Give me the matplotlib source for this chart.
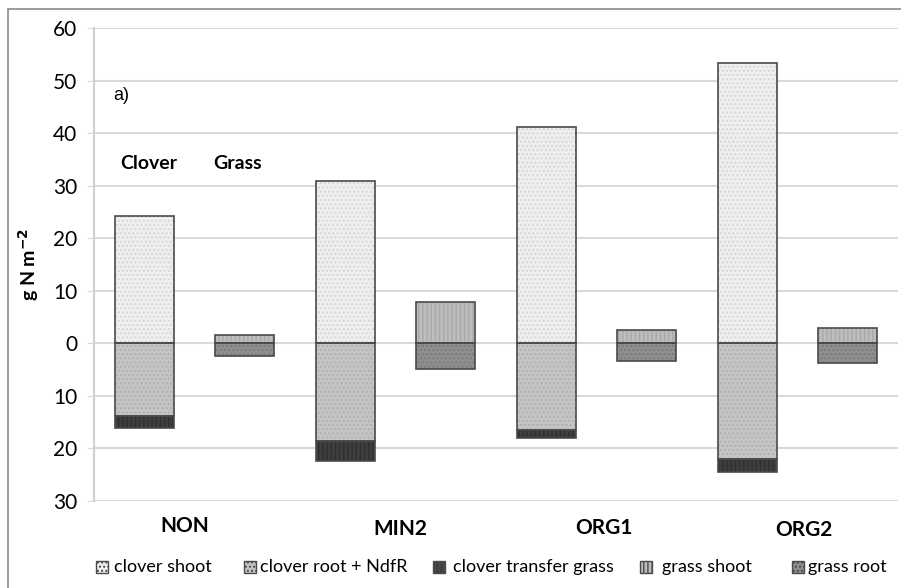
import matplotlib
matplotlib.use("Agg")
import matplotlib.pyplot as plt
from matplotlib.patches import Rectangle
import numpy as np

plt.rcParams['font.family'] = ['Lato', 'DejaVu Sans']

treatments = ["NON", "MIN2", "ORG1", "ORG2"]
clover_shoot = [24.2, 30.9, 41.1, 53.3]
clover_root = [13.9, 18.5, 16.4, 22.1]
clover_transfer = [2.3, 3.8, 1.6, 2.4]
grass_shoot = [1.6, 7.8, 2.5, 3.0]
grass_root = [2.4, 4.8, 3.3, 3.8]

yticks = [-30, -20, -10, 0, 10, 20, 30, 40, 50, 60]
ytick_labels = ["30", "20", "10", "0", "10", "20", "30", "40", "50", "60"]

legend_labels = ["clover shoot", "clover root + NdfR", "clover transfer grass",
                 "grass shoot", "grass root"]
colors = ["#efefef", "#c4c4c4", "#3e3e3e", "#bdbdbd", "#8e8e8e"]
hatches = ["....", "....", "||||", "||||", "...."]
hatch_cols = ["#d6d6d6", "#b0b0b0", "#303030", "#a9a9a9", "#7a7a7a"]

W, H = 901, 588
fig = plt.figure(figsize=(W/100, H/100), dpi=100)
ax = fig.add_axes([94/W, 87/H, 804/W, 473/H])

# outer border
fig.patches.append(Rectangle((8/W, -0.01), 0.995, (H-9)/H + 0.01, transform=fig.transFigure,
                             fill=False, edgecolor="#8a8a8a", linewidth=1.2))

w = 0.59
xc = np.arange(len(treatments)) * 2 + 0.5
xg = xc + 1
edge = "#4a4a4a"

def bar(x, h, b, i):
    ax.bar(x, h, w, bottom=b, color=colors[i], edgecolor=hatch_cols[i],
           hatch=hatches[i], linewidth=0, zorder=2)
    ax.bar(x, h, w, bottom=b, fill=False, edgecolor=edge, linewidth=1.2, zorder=3)

cs = np.array(clover_shoot)
cr = np.array(clover_root)
ct = np.array(clover_transfer)
gs = np.array(grass_shoot)
gr = np.array(grass_root)

bar(xc, cs, 0, 0)
bar(xc, -cr, 0, 1)
bar(xc, -ct, -cr, 2)
bar(xg, gs, 0, 3)
bar(xg, -gr, 0, 4)

ax.set_xlim(0, 8)
ax.set_ylim(-30, 60)
ax.set_yticks(yticks)
ax.set_yticklabels(ytick_labels, fontsize=15)
ax.yaxis.grid(True, color="#d9d9d9", linewidth=1.5, zorder=0)
ax.set_axisbelow(True)
ax.tick_params(axis='y', length=5, color="#d9d9d9", pad=7)
ax.set_xticks([])
for s in ["top", "right", "bottom"]:
    ax.spines[s].set_visible(False)
ax.spines["left"].set_color("#d0d0d0")
ax.spines["left"].set_linewidth(1.5)

ax.set_ylabel("g N m$^{\\mathbf{-2}}$", fontsize=14, fontweight="bold", labelpad=9)

# category labels
label_dx = [-0.1, 0.05, 0.07, 0.06]
label_y = [-34.7, -35.4, -35.2, -35.6]
for i, t in enumerate(treatments):
    ax.text(xc[i] + 0.5 + label_dx[i], label_y[i], t, ha="center", va="center",
            fontsize=15, fontweight="bold", clip_on=False)

ax.text(0.19, 47.2, "a)", fontsize=13, family="Liberation Sans", va="center")
ax.text(0.547, 34.2, "Clover", fontsize=14, fontweight="bold", va="center", ha="center")
ax.text(1.43, 34.2, "Grass", fontsize=14, fontweight="bold", va="center", ha="center")

# legend drawn manually
marker_x = [96, 244, 433, 640, 792]
text_x = [114, 260, 453, 662, 808]
ly = 567
for i in range(5):
    fig.patches.append(Rectangle((marker_x[i]/W, (H-ly-6)/H), 12/W, 12/H,
                                 transform=fig.transFigure, facecolor=colors[i],
                                 edgecolor=edge, linewidth=1, hatch=hatches[i]))
    fig.text(text_x[i]/W, (H-ly)/H, legend_labels[i], fontsize=13, va="center", ha="left")

fig.savefig("out.png", dpi=100)
